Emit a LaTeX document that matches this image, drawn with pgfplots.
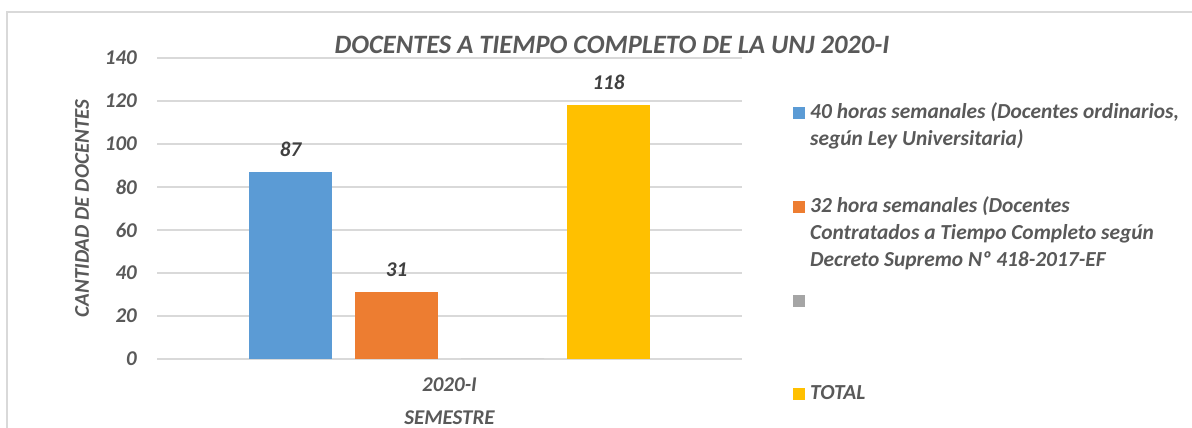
\documentclass[border=0pt]{standalone}
\usepackage{pgfplots}
\pgfplotsset{compat=1.18}
\usepackage{fontspec}
\setmainfont{Carlito}
\definecolor{cBlue}{HTML}{5B9BD5}
\definecolor{cOrange}{HTML}{ED7D31}
\definecolor{cGray}{HTML}{A5A5A5}
\definecolor{cYellow}{HTML}{FFC000}
\definecolor{txt}{HTML}{595959}
\definecolor{dtxt}{HTML}{404040}
\definecolor{gridc}{HTML}{D9D9D9}
\newcommand{\LE}[1]{\smash{\begin{tabular}[t]{@{}l@{}}#1\end{tabular}}}
\begin{document}
\begin{tikzpicture}[x=1pt,y=1pt]
\path[use as bounding box] (0,0) rectangle (1192,428);
\draw[gridc, line width=1.2pt] (7,0) -- (7,416) -- (1192,416);
\begin{axis}[
  at={(157pt,69pt)}, anchor=south west,
  scale only axis, width=585pt, height=301pt,
  ybar, bar width=83pt,
  xmin=-1, xmax=1, ymin=0, ymax=140,
  ytick={0,20,...,140},
  xtick={0}, xticklabels={2020-I},
  major tick length=0pt,
  axis line style={draw=none},
  xmajorgrids=false, ymajorgrids=true,
  grid style={draw=gridc, line width=1.4pt},
  font=\fontsize{21}{25}\selectfont\bfseries\itshape,
  tick label style={text=txt},
  /pgf/number format/assume math mode=true,
  yticklabel style={anchor=east, inner sep=0pt, xshift=-20pt},
  xticklabel style={anchor=center, inner sep=0pt, yshift=-26pt},
  xlabel={SEMESTRE},
  xlabel style={at={(axis description cs:0.5,-0.196)}, anchor=center, inner sep=0pt, text=txt},
  ylabel={CANTIDAD DE DOCENTES},
  ylabel style={at={(axis description cs:-0.128,0.5)}, anchor=center, inner sep=0pt, text=txt},
  title={DOCENTES A TIEMPO COMPLETO DE LA UNJ 2020-I},
  title style={at={(axis description cs:0.778,0.9966)}, anchor=base, inner sep=0pt, text=txt, font=\fontsize{26.5}{30}\selectfont\bfseries\itshape},
  nodes near coords style={anchor=center, inner sep=0pt, yshift=23pt, text=dtxt},
  legend image code/.code={\fill[#1] (0pt,0pt) rectangle (12pt,12pt);},
  legend cell align=left,
  legend style={at={(axis description cs:1.0872,0.8372)}, anchor=north west,
    draw=none, fill=none, inner sep=0pt, row sep=81pt, column sep=5pt,
    font=\fontsize{21.4}{27}\selectfont\bfseries\itshape, text=txt,
    nodes={inner sep=0pt}},
]
\addplot[fill=cBlue, draw=none, bar shift=-159pt, nodes near coords] coordinates {(0,87)};
\addlegendentry{\LE{40 horas semanales (Docentes ordinarios,\\según Ley Universitaria)}}
\addplot[fill=cOrange, draw=none, bar shift=-53pt, nodes near coords] coordinates {(0,31)};
\addlegendentry{\LE{32 hora semanales (Docentes\\Contratados a Tiempo Completo según\\Decreto Supremo Nº 418-2017-EF}}
\addplot[fill=cGray, draw=none, bar shift=53pt] coordinates {(0,0)};
\addlegendentry{\LE{}}
\addplot[fill=cYellow, draw=none, bar shift=159pt, nodes near coords] coordinates {(0,118)};
\addlegendentry{\LE{TOTAL}}
\end{axis}
\end{tikzpicture}
\end{document}
